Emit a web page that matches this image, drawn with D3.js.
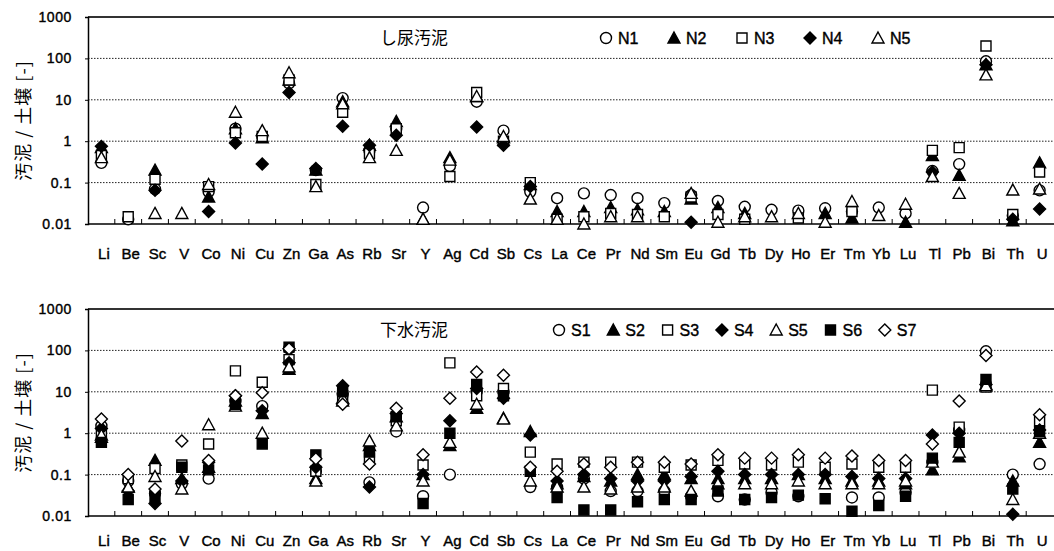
<!DOCTYPE html>
<html lang="ja">
<head>
  <meta charset="UTF-8">
  <title>汚泥 / 土壌</title>
  <script src="https://d3js.org/d3.v7.min.js"></script>
  <style>
    body { margin: 0; background: #fff; }
    text { font-family: "Liberation Sans", Arial, sans-serif; fill: #000; }
    .jp { font-family: "Noto Sans CJK JP", sans-serif; }
  </style>
</head>
<body>
<svg width="1054" height="551"></svg>
<script>
const elements = ["Li","Be","Sc","V","Co","Ni","Cu","Zn","Ga","As","Rb","Sr","Y","Ag","Cd","Sb","Cs",
  "La","Ce","Pr","Nd","Sm","Eu","Gd","Tb","Dy","Ho","Er","Tm","Yb","Lu","Tl","Pb","Bi","Th","U"];
const yTicks = [0.01, 0.1, 1, 10, 100, 1000];
const yTickLabels = ["0.01", "0.1", "1", "10", "100", "1000"];

// し尿汚泥
const N1 = [0.3,0.013,0.07,null,0.06,2,1.3,25,0.2,11,0.6,2,0.025,0.25,9,1.8,0.06,
  0.042,0.055,0.05,0.042,0.032,0.05,0.036,0.026,0.022,0.021,0.024,0.02,0.025,0.018,0.19,0.28,85,0.016,0.065];
const N2 = [0.7,null,0.2,null,0.045,2,1.2,30,0.2,9,0.8,3,0.013,0.4,12,1.2,0.09,
  0.02,0.02,0.025,0.022,0.02,0.04,0.025,0.018,null,null,0.018,0.014,null,0.011,0.45,0.15,70,0.012,0.3];
const N3 = [0.45,0.015,0.12,null,0.08,1.6,1.3,30,0.09,5,0.5,2,null,0.14,15,1.0,0.1,
  0.013,0.015,0.018,0.017,0.015,0.045,0.017,0.013,null,0.014,null,0.02,null,null,0.6,0.7,200,0.017,0.18];
const N4 = [0.75,null,0.065,null,0.02,0.9,0.28,15,0.22,2.3,0.8,1.4,null,null,2.2,0.8,0.08,
  null,null,null,null,null,0.011,null,null,null,null,null,null,null,null,0.18,null,70,0.013,0.023];
const N5 = [0.4,null,0.018,0.018,0.09,5,1.8,45,0.08,8,0.4,0.6,0.013,0.35,12,1.3,0.04,
  0.013,0.01,0.015,0.015,null,0.055,0.011,0.015,0.015,0.018,0.011,0.035,0.016,0.03,0.14,0.055,40,0.066,0.07];

// 下水汚泥
const S1 = [1.5,0.07,0.035,0.06,0.08,6,4.5,110,0.12,9,0.065,1.1,0.03,0.1,10,10,0.05,
  0.05,0.08,0.04,0.04,0.04,0.03,0.03,0.025,0.037,0.03,null,0.028,0.028,0.037,0.2,1.2,95,0.1,0.18];
const S2 = [0.8,0.05,0.22,0.08,0.15,6,3,35,0.08,6,0.5,2.5,0.1,0.5,4,2.3,1.1,
  0.06,0.09,0.07,0.1,0.1,0.08,0.08,0.08,0.08,0.1,0.08,0.07,0.07,0.06,0.13,0.27,15,0.07,0.6];
const S3 = [1.0,0.08,0.14,0.17,0.55,32,17,60,0.12,8,0.25,2,0.17,50,8,12,0.35,
  0.18,0.2,0.2,0.2,0.15,0.17,0.22,0.18,0.17,0.2,0.15,0.18,0.15,0.15,11,1.4,13,null,2];
const S4 = [1.3,0.04,0.02,0.07,0.2,8,3.5,50,0.15,14,0.05,3,0.1,2,12,7,0.9,
  0.07,0.1,0.08,0.07,0.07,0.09,0.12,0.1,0.1,0.1,0.1,0.09,0.08,0.08,0.9,1.0,15,0.011,1.2];
const S5 = [0.9,0.05,0.09,0.045,1.6,4.5,1.0,40,0.07,7,0.65,1.5,0.07,0.6,5,2.2,0.07,
  0.05,0.05,0.045,0.05,0.05,0.04,0.06,0.06,0.06,0.07,0.06,0.06,0.06,0.07,0.2,0.35,14,0.025,1.0];
const S6 = [0.6,0.025,0.03,0.15,0.13,5,0.55,120,0.3,10,0.35,2.5,0.02,1.0,15,8,0.12,
  0.028,0.014,0.014,0.022,0.025,0.025,0.04,0.025,0.028,0.032,0.026,0.013,0.018,0.03,0.25,0.6,20,0.045,1.1];
const S7 = [2.2,0.1,0.045,0.65,0.22,8,9.5,110,0.24,5,0.18,4,0.3,7,30,25,0.15,
  0.12,0.18,0.15,0.2,0.2,0.18,0.3,0.25,0.25,0.3,0.25,0.28,0.22,0.22,0.55,6,75,null,2.8];

const svg = d3.select("svg");
const x = d3.scaleBand().domain(elements).range([88, 1053]);

// Markerformen
const shapes = {
  circle: "M5.5,0A5.5,5.5,0,1,1,-5.5,0A5.5,5.5,0,1,1,5.5,0Z",
  square: "M-5,-5H5V5H-5Z",
  triangle: "M0,-6L6,5H-6Z",
  diamond: "M0,-6L6,0L0,6L-6,0Z"
};

function drawPanel(top, bottom, labelOffset, title, series, legendX, legendStep) {
  const y = d3.scaleLog().domain([0.01, 1000]).range([bottom, top]);
  const g = svg.append("g");

  // Gitter
  g.selectAll(".grid").data(yTicks.slice(1, -1)).join("line")
    .attr("x1", 88).attr("x2", 1054)
    .attr("y1", d => y(d)).attr("y2", d => y(d))
    .attr("stroke", "#222").attr("stroke-width", 1).attr("stroke-dasharray", "1.5,1.5");
  g.append("line").attr("x1", 88).attr("x2", 1054).attr("y1", y(1000)).attr("y2", y(1000))
    .attr("stroke", "#333").attr("stroke-width", 2);

  // y-Achse
  const ya = g.append("g").attr("transform", "translate(88,0)")
    .call(d3.axisLeft(y).tickValues(yTicks).tickFormat((d, i) => yTickLabels[i]).tickSize(3).tickPadding(13));
  ya.select(".domain").attr("stroke-width", 1.5);
  ya.selectAll("text")
    .attr("font-size", 14).attr("font-family", "Liberation Sans, Arial")
    .attr("letter-spacing", 0.6).attr("fill", "#000")
    .attr("stroke", "#000").attr("stroke-width", 0.4);

  // x-Achse mit Strichen zwischen den Kategorien
  g.append("line").attr("x1", 88).attr("x2", 1054).attr("y1", bottom).attr("y2", bottom)
    .attr("stroke", "#000").attr("stroke-width", 1.5);
  g.selectAll(".xt").data(elements.slice(1)).join("line")
    .attr("x1", d => x(d)).attr("x2", d => x(d))
    .attr("y1", bottom).attr("y2", bottom - 5)
    .attr("stroke", "#000");
  g.selectAll(".xl").data(elements).join("text")
    .attr("x", d => x(d) + x.bandwidth() / 2 + 2.5)
    .attr("y", bottom + labelOffset)
    .attr("text-anchor", "middle")
    .attr("font-size", 15)
    .attr("stroke", "#000").attr("stroke-width", 0.4)
    .text(d => d);

  // y-Beschriftung
  g.append("text").attr("class", "jp")
    .attr("transform", `translate(30,${(top + bottom) / 2}) rotate(-90)`)
    .attr("text-anchor", "middle").attr("font-size", 18)
    .attr("letter-spacing", 1)
    .attr("fill", "#000").style("fill", "#000")
    .text("汚泥 / 土壌 [-]");

  // Punkte
  series.forEach(s => {
    g.append("g").selectAll("path")
      .data(s.values.map((v, i) => ({ v, k: elements[i] })).filter(d => d.v != null))
      .join("path")
      .attr("d", shapes[s.shape])
      .attr("transform", d => `translate(${x(d.k) + x.bandwidth() / 2},${y(d.v)})`)
      .attr("fill", s.filled ? "#000" : "#fff")
      .attr("stroke", "#000").attr("stroke-width", 1.4);
  });

  // Titel + Legende
  g.append("text").attr("class", "jp")
    .attr("x", 380).attr("y", top + 27).attr("font-size", 17)
    .attr("fill", "#000")
    .text(title);
  series.forEach((s, i) => {
    const lx = legendX + i * legendStep;
    g.append("path").attr("d", shapes[s.shape])
      .attr("transform", `translate(${lx + 6},${top + 21})`)
      .attr("fill", s.filled ? "#000" : "#fff")
      .attr("stroke", "#000").attr("stroke-width", 1.4);
    g.append("text").attr("x", lx + 18).attr("y", top + 27)
      .attr("font-size", 16)
      .attr("stroke", "#000").attr("stroke-width", 0.4)
      .text(s.name);
  });
}

drawPanel(17, 224, 35, "し尿汚泥", [
  { name: "N1", values: N1, shape: "circle", filled: false },
  { name: "N2", values: N2, shape: "triangle", filled: true },
  { name: "N3", values: N3, shape: "square", filled: false },
  { name: "N4", values: N4, shape: "diamond", filled: true },
  { name: "N5", values: N5, shape: "triangle", filled: false }
], 600, 68);

drawPanel(309, 516, 30, "下水汚泥", [
  { name: "S1", values: S1, shape: "circle", filled: false },
  { name: "S2", values: S2, shape: "triangle", filled: true },
  { name: "S3", values: S3, shape: "square", filled: false },
  { name: "S4", values: S4, shape: "diamond", filled: true },
  { name: "S5", values: S5, shape: "triangle", filled: false },
  { name: "S6", values: S6, shape: "square", filled: true },
  { name: "S7", values: S7, shape: "diamond", filled: false }
], 553, 54.3);
</script>
</body>
</html>
